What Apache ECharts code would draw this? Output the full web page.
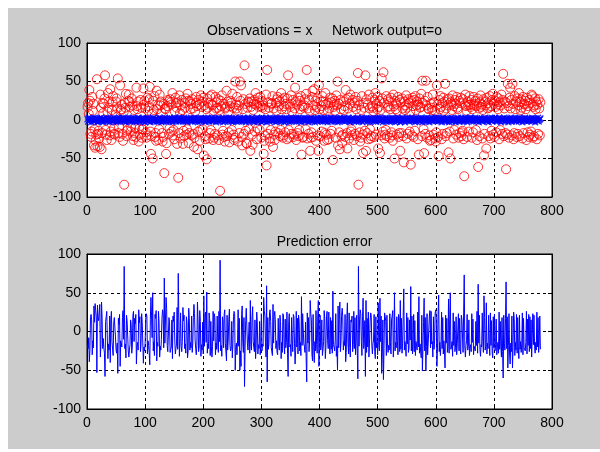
<!DOCTYPE html>
<html><head><meta charset="utf-8">
<script src="https://cdn.jsdelivr.net/npm/echarts@6/dist/echarts.min.js"></script>
<style>
html,body{margin:0;padding:0;background:#ffffff;}
#bg{position:absolute;left:8px;top:8px;width:592px;height:441px;background:#cccccc;}
#c{position:absolute;left:0;top:0;width:600px;height:452px;}
</style>
</head><body><div id="bg"></div><div id="c"></div>
<script>
// ---- data ----
const xTicks = [0, 100, 200, 300, 400, 500, 600, 700, 800];
const yTicks = [-100, -50, 0, 50, 100];
const titleTop = 'Observations = x     Network output=o';
const titleBottom = 'Prediction error';

// Observations (blue x), sample 1..780
const observations = [
1,-2,3,0,-1,2,-3,1,0,2,-1,-2,3,1,-1,0,2,-3,1,-2,
0,2,-1,3,-2,1,0,-3,2,1,-1,0,3,-2,1,2,-1,0,-3,1,
2,-1,0,1,-2,3,-1,2,0,-3,1,2,-2,0,3,-1,1,-2,2,0,
-1,3,1,-2,0,2,-3,1,2,-1,0,3,-2,1,-1,2,0,-2,3,1,
0,-2,2,1,-3,0,2,-1,3,1,-2,0,1,-1,2,3,-2,0,1,-3,
2,1,-1,0,3,-2,1,2,-3,0,1,-1,2,3,-2,0,-1,2,1,-2,
1,0,-2,3,-1,2,0,-3,1,2,-2,1,0,3,-1,-2,2,0,1,-1,
-2,3,1,0,-1,2,-3,1,0,2,3,-1,-2,1,0,2,-1,3,-2,0,
3,-1,0,2,-2,1,3,-1,0,-2,2,1,-3,0,1,2,-1,0,3,-2,
0,2,-1,1,3,-2,0,1,-1,2,-3,0,2,1,-2,3,0,-1,1,2,
-1,0,2,-3,1,2,-1,0,3,-2,1,0,-1,2,3,-2,1,-1,0,2,
2,-3,1,0,-1,3,2,-2,0,1,-1,2,0,-3,1,2,-2,1,3,0,
1,2,-2,0,3,-1,1,-2,2,0,-3,1,2,-1,0,3,-2,1,0,-1,
-2,1,3,-1,0,2,-2,1,3,0,-1,2,-3,1,0,-1,2,3,-2,1,
0,-1,2,3,-2,1,0,-3,1,2,0,-1,3,-2,1,2,-1,0,2,-3,
3,1,-2,0,2,-1,1,3,-3,0,2,1,-1,-2,3,0,1,-1,2,0,
-1,2,0,-3,1,3,-2,0,2,1,-1,3,0,-2,1,2,-1,0,-3,2,
1,-2,3,1,0,-1,2,-3,1,0,3,-2,1,2,-1,0,2,-1,3,-2,
2,0,-1,3,-2,1,0,2,-3,1,2,-1,0,3,-2,1,-1,2,0,1,
-3,1,2,0,-1,3,-2,1,0,2,-1,-3,2,1,0,-2,3,1,-1,0,
0,3,-1,2,1,-2,0,3,-1,-2,1,2,0,-3,2,1,-1,0,3,-2,
2,-1,0,1,3,-2,1,-1,2,0,-3,1,2,-2,0,3,1,-1,2,0,
-1,2,3,-2,0,1,-1,2,0,3,-2,1,-3,0,2,-1,1,3,-2,0,
1,0,-2,2,-1,3,0,-2,1,2,-1,0,3,-3,1,2,-1,0,2,1,
3,-2,1,0,2,-1,-3,1,2,0,1,-2,3,-1,0,2,-2,1,0,3,
0,1,-1,3,-2,0,2,1,-3,2,0,-1,1,3,-2,0,2,-1,1,-2,
2,-1,0,-2,3,1,-1,2,0,-3,2,1,-2,0,3,-1,1,2,-3,0,
-2,3,1,0,-1,2,-3,0,1,2,-1,3,0,-2,1,2,-1,0,3,-1,
1,-1,2,-3,0,3,-2,1,2,0,-1,2,-2,1,3,0,-3,1,2,-1,
0,2,-2,1,3,-1,0,2,-3,1,2,0,-1,3,-2,1,0,-1,2,3,
-1,0,3,-2,1,2,-1,0,2,-3,1,3,0,-1,2,-2,1,0,-2,2,
2,1,-3,0,2,-1,3,-2,1,0,-1,2,1,-3,0,2,-1,3,0,-2,
0,-2,1,3,-1,0,2,-2,1,3,0,-1,2,-3,1,0,2,-1,3,1,
3,0,-1,2,-2,1,0,3,-1,-2,2,1,0,-3,2,1,-1,0,2,-1,
-2,1,2,0,3,-1,1,-2,0,2,-3,1,2,0,-1,3,-2,1,0,2,
1,3,-1,2,0,-2,1,0,3,-1,2,-3,0,1,2,-1,0,3,-2,1,
0,-1,2,1,-3,0,2,-1,1,3,-2,0,1,2,-1,0,3,-2,1,0,
2,0,-2,3,1,-1,0,2,-3,1,0,2,-1,3,0,-2,1,2,-1,0,
-1,2,1,0,-2,3,-1,1,2,0,-3,1,2,-1,0,3,-2,0,1,2
];

// Network output (red o), sample 1..780
const networkOutput = [
17,22,8,39,25,-18,-22,-15,30,12,21,-33,-12,-36,-27,-19,53,-34,-18,-14,
-24,-35,33,16,-38,-17,22,9,21,28,58,-13,-19,-26,11,35,16,24,-20,40,
-15,-26,13,23,31,-11,-18,-19,7,24,28,15,54,-17,-9,-22,45,12,14,20,
-18,-27,10,-84,22,16,34,-21,-14,-12,25,33,24,17,-15,-9,28,19,-21,-26,
13,-17,-10,-22,42,18,14,24,-28,-11,-19,26,16,-23,-12,-12,41,20,25,15,
-16,-23,-20,29,12,18,27,43,-15,-44,-21,8,-50,25,13,31,-22,-17,-27,38,
14,19,-26,-12,33,19,24,10,-17,-28,-22,21,-69,15,14,-44,-30,18,26,24,
-18,-11,27,23,20,-15,35,-20,-13,-25,11,29,22,16,-31,23,-75,-17,32,9,
-24,19,26,13,-31,-14,-21,22,16,28,-19,-12,34,25,-30,-17,24,14,21,-20,
27,15,-18,-35,-23,11,22,30,18,-38,-15,26,20,-27,-13,32,17,24,-12,29,
-46,19,-21,-25,14,-51,28,16,22,-24,-17,31,-13,20,33,19,-26,12,-23,-18,
30,15,23,-20,16,27,-26,13,-92,25,18,32,-19,-14,21,-22,-28,15,17,38,
-21,24,11,-16,-29,18,25,22,-13,34,16,-19,-26,-23,50,20,15,30,12,-28,
19,-17,50,25,45,-22,-33,14,27,-18,71,21,-14,-30,-31,16,24,23,-12,28,
-40,17,24,-19,-32,13,21,26,-15,35,20,-25,-11,29,17,22,-13,30,18,-23,
25,16,19,-44,-27,-20,14,33,-59,65,-18,23,16,-24,-28,-13,21,22,31,-35,
15,-19,-26,-15,22,12,27,30,-17,18,24,-21,-13,35,14,27,-23,-20,18,29,
-16,21,14,-25,28,58,-13,-23,20,17,32,-18,11,26,-22,-19,15,42,24,-26,
20,-17,29,-21,-13,25,14,31,-45,18,-23,-22,16,19,27,-12,34,65,-24,15,
-18,26,12,-40,-23,-16,30,38,-22,19,40,13,25,-27,17,28,-20,-40,45,14,
-21,24,18,-15,31,24,13,-27,-17,35,20,-19,-26,12,22,-25,15,29,-18,23,
-14,28,-52,17,20,25,12,-23,32,19,50,-33,21,-16,-38,26,14,-21,-30,-19,
24,13,18,-22,39,27,-17,-37,15,29,-24,21,33,-15,-12,-20,26,17,-26,22,
-18,30,14,-21,25,61,-84,19,-16,-28,-23,13,31,-19,-43,22,16,-14,58,-40,
27,-17,20,-25,33,15,-12,-24,-21,18,29,16,11,-22,26,35,-19,21,14,30,
-37,17,25,-43,13,-20,54,28,-15,62,22,-24,-19,-13,31,-21,16,27,18,24,
-23,14,29,-16,-20,-27,33,18,-50,25,14,21,-19,12,30,-22,-17,26,-40,23,
-17,28,15,-21,-55,24,13,19,32,-24,16,-18,27,22,-15,11,-58,25,-20,29,
18,-22,26,-14,31,13,19,24,-25,20,-45,28,16,17,34,-21,51,22,-12,-43,
25,-18,51,19,-23,30,15,14,-20,-27,21,-26,16,13,33,-19,23,12,-24,-28,
-16,45,20,-22,-47,26,14,31,17,-25,22,-18,29,12,24,47,-21,15,-17,27,
19,-42,28,-15,-50,23,20,13,32,-24,18,-13,26,21,-19,30,16,14,-23,25,
-17,22,29,-21,-16,-14,27,-25,-73,20,33,18,12,-22,24,19,-15,31,20,17,
26,-23,14,-16,30,19,21,25,-13,18,-26,28,-61,15,-21,23,32,17,20,-24,
13,27,-46,-18,24,19,-37,29,15,22,-21,16,31,-24,18,-14,26,34,-19,21,
-22,25,17,-16,30,20,14,28,-25,23,-13,19,33,-18,26,60,-21,15,24,-17,
-64,22,-19,47,18,-23,29,42,15,26,-20,47,21,-25,-17,31,14,24,-22,28,
-18,19,35,-21,23,13,27,16,-24,30,-17,21,20,25,14,-26,29,-16,18,-22,
26,-19,22,-15,33,31,-23,17,-21,19,28,14,24,-25,20,-18,27,15,-20,23
];

// Prediction error (blue line), sample 1..780
const predictionError = [
-17,-22,-8,-39,-25,18,22,15,-30,-12,-21,33,12,36,27,19,-53,34,18,14,
24,35,-33,-16,38,17,-22,-9,-21,-28,-58,13,19,26,-11,-35,-16,-24,20,-40,
15,26,-13,-23,-31,11,18,19,-7,-24,-28,-15,-54,17,9,22,-45,-12,-14,-20,
18,27,-10,84,-22,-16,-34,21,14,12,-25,-33,-24,-17,15,9,-28,-19,21,26,
-13,17,10,22,-42,-18,-14,-24,28,11,19,-26,-16,23,12,12,-41,-20,-25,-15,
16,23,20,-29,-12,-18,-27,-43,15,44,21,-8,50,-25,-13,-31,22,17,27,-38,
-14,-19,26,12,-33,-19,-24,-10,17,28,22,-21,69,-15,-14,44,30,-18,-26,-24,
18,11,-27,-23,-20,15,-35,20,13,25,-11,-29,-22,-16,31,-23,75,17,-32,-9,
24,-19,-26,-13,31,14,21,-22,-16,-28,19,12,-34,-25,30,17,-24,-14,-21,20,
-27,-15,18,35,23,-11,-22,-30,-18,38,15,-26,-20,27,13,-32,-17,-24,12,-29,
46,-19,21,25,-14,51,-28,-16,-22,24,17,-31,13,-20,-33,-19,26,-12,23,18,
-30,-15,-23,20,-16,-27,26,-13,92,-25,-18,-32,19,14,-21,22,28,-15,-17,-38,
21,-24,-11,16,29,-18,-25,-22,13,-34,-16,19,26,23,-50,-20,-15,-30,-12,28,
-19,17,-50,-25,-45,22,33,-14,-27,18,-71,-21,14,30,31,-16,-24,-23,12,-28,
40,-17,-24,19,32,-13,-21,-26,15,-35,-20,25,11,-29,-17,-22,13,-30,-18,23,
-25,-16,-19,44,27,20,-14,-33,59,-65,18,-23,-16,24,28,13,-21,-22,-31,35,
-15,19,26,15,-22,-12,-27,-30,17,-18,-24,21,13,-35,-14,-27,23,20,-18,-29,
16,-21,-14,25,-28,-58,13,23,-20,-17,-32,18,-11,-26,22,19,-15,-42,-24,26,
-20,17,-29,21,13,-25,-14,-31,45,-18,23,22,-16,-19,-27,12,-34,-65,24,-15,
18,-26,-12,40,23,16,-30,-38,22,-19,-40,-13,-25,27,-17,-28,20,40,-45,-14,
21,-24,-18,15,-31,-24,-13,27,17,-35,-20,19,26,-12,-22,25,-15,-29,18,-23,
14,-28,52,-17,-20,-25,-12,23,-32,-19,-50,33,-21,16,38,-26,-14,21,30,19,
-24,-13,-18,22,-39,-27,17,37,-15,-29,24,-21,-33,15,12,20,-26,-17,26,-22,
18,-30,-14,21,-25,-61,84,-19,16,28,23,-13,-31,19,43,-22,-16,14,-58,40,
-27,17,-20,25,-33,-15,12,24,21,-18,-29,-16,-11,22,-26,-35,19,-21,-14,-30,
37,-17,-25,43,-13,20,-54,-28,15,-62,-22,24,19,13,-31,21,-16,-27,-18,-24,
23,-14,-29,16,20,27,-33,-18,50,-25,-14,-21,19,-12,-30,22,17,-26,40,-23,
17,-28,-15,21,55,-24,-13,-19,-32,24,-16,18,-27,-22,15,-11,58,-25,20,-29,
-18,22,-26,14,-31,-13,-19,-24,25,-20,45,-28,-16,-17,-34,21,-51,-22,12,43,
-25,18,-51,-19,23,-30,-15,-14,20,27,-21,26,-16,-13,-33,19,-23,-12,24,28,
16,-45,-20,22,47,-26,-14,-31,-17,25,-22,18,-29,-12,-24,-47,21,-15,17,-27,
-19,42,-28,15,50,-23,-20,-13,-32,24,-18,13,-26,-21,19,-30,-16,-14,23,-25,
17,-22,-29,21,16,14,-27,25,73,-20,-33,-18,-12,22,-24,-19,15,-31,-20,-17,
-26,23,-14,16,-30,-19,-21,-25,13,-18,26,-28,61,-15,21,-23,-32,-17,-20,24,
-13,-27,46,18,-24,-19,37,-29,-15,-22,21,-16,-31,24,-18,14,-26,-34,19,-21,
22,-25,-17,16,-30,-20,-14,-28,25,-23,13,-19,-33,18,-26,-60,21,-15,-24,17,
64,-22,19,-47,-18,23,-29,-42,-15,-26,20,-47,-21,25,17,-31,-14,-24,22,-28,
18,-19,-35,21,-23,-13,-27,-16,24,-30,17,-21,-20,-25,-14,26,-29,16,-18,22,
-26,19,-22,15,-33,-31,23,-17,21,-19,-28,-14,-24,25,-20,18,-27,-15,20,-23
];

// ---- chart ----
const FONT = '"Liberation Sans", Arial, Helvetica, sans-serif';
const pairs = arr => arr.map((v, i) => [i + 1, v]);
const xMin = xTicks[0], xMax = xTicks[xTicks.length - 1], xStep = xTicks[1] - xTicks[0];
const yMin = yTicks[0], yMax = yTicks[yTicks.length - 1], yStep = yTicks[1] - yTicks[0];

const lbl = { color: '#000', fontSize: 14, fontFamily: FONT };
const dash = { show: true, lineStyle: { color: '#000', width: 1, type: [3, 3] } };
const tick = { show: true, inside: true, length: 4, lineStyle: { color: '#000' } };

function xAxesFor(g) {
  return [
    { gridIndex: g, type: 'value', min: xMin, max: xMax, interval: xStep, position: 'bottom',
      axisLine: { show: true, onZero: false, lineStyle: { color: '#000' } },
      axisTick: tick, axisLabel: Object.assign({ margin: 7 }, lbl), splitLine: dash },
    { gridIndex: g, type: 'value', min: xMin, max: xMax, interval: xStep, position: 'top',
      axisLine: { show: true, onZero: false, lineStyle: { color: '#000' } },
      axisTick: tick, axisLabel: { show: false }, splitLine: { show: false } }
  ];
}
function yAxesFor(g) {
  return [
    { gridIndex: g, type: 'value', min: yMin, max: yMax, interval: yStep, position: 'left',
      axisLine: { show: true, onZero: false, lineStyle: { color: '#000' } },
      axisTick: tick, axisLabel: Object.assign({ margin: 6 }, lbl), splitLine: dash },
    { gridIndex: g, type: 'value', min: yMin, max: yMax, interval: yStep, position: 'right',
      axisLine: { show: true, onZero: false, lineStyle: { color: '#000' } },
      axisTick: tick, axisLabel: { show: false }, splitLine: { show: false } }
  ];
}

const chart = echarts.init(document.getElementById('c'), null, { renderer: 'canvas' });
chart.setOption({
  animation: false,
  backgroundColor: 'transparent',
  title: [
    { text: titleTop, left: 319.5, top: 19, textAlign: 'center',
      textStyle: { color: '#000', fontSize: 14, fontWeight: 'normal', fontFamily: FONT } },
    { text: titleBottom, left: 319.5, top: 230, textAlign: 'center',
      textStyle: { color: '#000', fontSize: 14, fontWeight: 'normal', fontFamily: FONT } }
  ],
  grid: [
    { left: 87, top: 43, width: 465, height: 154, show: true, backgroundColor: '#ffffff', borderColor: '#000', borderWidth: 1 },
    { left: 87, top: 254, width: 465, height: 155, show: true, backgroundColor: '#ffffff', borderColor: '#000', borderWidth: 1 }
  ],
  xAxis: xAxesFor(0).concat(xAxesFor(1)),
  yAxis: yAxesFor(0).concat(yAxesFor(1)),
  series: [
    { name: 'Network output', type: 'scatter', xAxisIndex: 0, yAxisIndex: 0,
      data: pairs(networkOutput), symbol: 'circle', symbolSize: 9,
      itemStyle: { color: 'rgba(0,0,0,0)', borderColor: '#ff0000', borderWidth: 1 } },
    { name: 'Observations', type: 'scatter', xAxisIndex: 0, yAxisIndex: 0,
      data: pairs(observations), symbol: 'path://M0,0L8,8M8,0L0,8', symbolSize: 6,
      itemStyle: { color: 'rgba(0,0,0,0)', borderColor: '#0000ff', borderWidth: 1.3 } },
    { name: 'Prediction error', type: 'line', xAxisIndex: 2, yAxisIndex: 2,
      data: pairs(predictionError), showSymbol: false, symbol: 'none',
      lineStyle: { color: '#0000ff', width: 1 } }
  ]
});
</script>
</body></html>
